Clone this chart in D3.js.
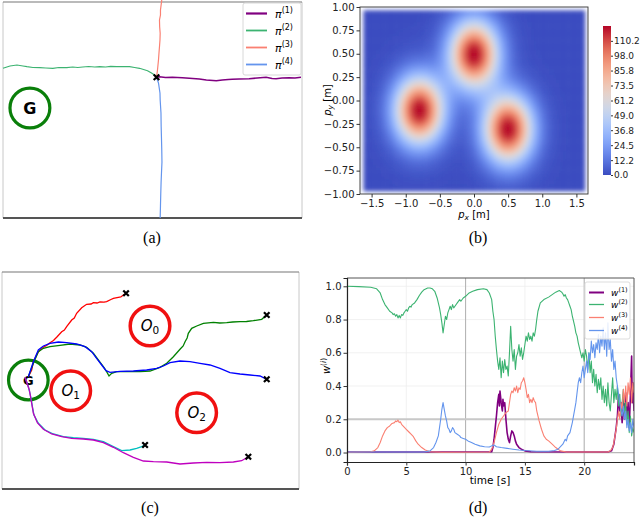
<!DOCTYPE html>
<html><head><meta charset="utf-8">
<script src="https://cdn.jsdelivr.net/npm/d3@7"></script>
<style>body{margin:0;background:#fff} svg{display:block} text{font-family:"DejaVu Sans",sans-serif}</style>
</head><body><svg id="fig" width="640" height="518"></svg>
<script>
// ---------------- DATA ----------------
// (a) four single-mode trajectories (units: dm in the panel frame)
const aNames = ["π(1)", "π(2)", "π(3)", "π(4)"];
const aColors = ["#800080", "#3cb371", "#fa8072", "#6495ed"];
const aPurple = [[15.4,14.07],[15.7,14.13],[16.3,14.05],[17.0,14.08],[18.0,14.03],[18.7,13.98],[19.7,13.9],[20.4,13.8],[21.4,13.73],[22.0,13.8],[22.6,13.85],[23.0,13.87],[23.7,13.9],[24.7,13.93],[25.5,14.0],[26.4,14.07],[27.0,13.95],[27.4,13.93],[28.0,14.0],[28.7,14.03],[29.3,14.0],[29.9,14.07]];
const aGreen = [[0,14.97],[0.7,15.2],[1.4,15.3],[2.0,15.2],[2.4,15.13],[3.0,15.05],[3.7,15.03],[4.3,15.0],[5.0,14.97],[5.6,15.05],[6.4,15.03],[7.0,15.1],[7.5,15.05],[8.0,15.1],[8.6,15.15],[9.2,15.1],[9.7,15.13],[10.3,15.1],[10.8,15.16],[11.4,15.13],[12.0,15.15],[12.7,15.13],[13.2,15.05],[13.7,14.97],[14.1,14.85],[14.5,14.73],[14.9,14.5],[15.2,14.3],[15.4,14.07]];
const aSalmon = [[15.4,14.07],[15.5,14.8],[15.6,15.8],[15.65,16.5],[15.7,17.13],[15.75,17.8],[15.77,18.47],[15.72,19.1],[15.7,19.8],[15.8,20.3],[15.8,20.8],[15.93,21.8]];
const aBlue = [[15.4,14.07],[15.6,13.5],[15.75,12.5],[15.77,11.8],[15.85,10.5],[15.87,9.13],[15.9,8.0],[15.93,6.8],[15.95,5.6],[15.9,4.47],[15.86,3.5],[15.83,2.47],[15.8,1.2],[15.77,0]];
const aStart = [15.4, 14.07];
const aGoal = [2.7, 11.0];
const goalRadius = 2.0;

// (b) cost map: three obstacle Gaussians
const obsX = [0.0, -0.8, 0.5];
const obsY = [0.5, -0.1, -0.3];
const obsAmp = [122.4, 122.4, 122.4];
const obsSigma = [0.25, 0.25, 0.25];
const cbTicks = [0.0, 12.2, 24.5, 36.8, 49.0, 61.2, 73.5, 85.8, 98.0, 110.2];
const cbMax = 122.4;
const bXTicks = [-1.5, -1.0, -0.5, 0.0, 0.5, 1.0, 1.5];
const bYTicks = [1.0, 0.75, 0.5, 0.25, 0.0, -0.25, -0.5, -0.75, -1.0];

// (c) mixture trajectories
const cObsX = [14.95, 6.94, 19.66];
const cObsY = [16.3, 9.83, 7.63];
const cObsLabel = ["0", "1", "2"];
const cGoal = [2.66, 10.9];
const cRed = [[2.66,11.23],[3.0,11.9],[3.17,12.73],[3.67,13.73],[4.18,14.17],[4.5,14.35],[4.85,14.63],[5.2,14.85],[5.52,15.17],[6.03,15.73],[6.3,15.9],[6.53,16.23],[7.04,16.9],[7.3,17.1],[7.54,17.57],[8.05,18.13],[8.3,18.3],[8.55,18.47],[9.0,18.5],[9.23,18.63],[9.6,18.6],[9.9,18.7],[10.3,18.68],[10.57,18.73],[11.0,18.95],[11.25,19.07],[11.75,19.17],[12.0,19.2],[12.26,19.4],[12.53,19.57]];
const cGreen = [[2.66,11.23],[3.17,12.57],[3.67,13.73],[4.18,14.07],[4.85,14.23],[5.86,14.37],[6.87,14.5],[7.88,14.4],[8.55,14.17],[9.23,13.57],[9.73,12.9],[10.24,12.23],[10.57,11.73],[10.81,11.3],[11.08,11.57],[11.58,11.73],[12.59,11.73],[13.94,11.73],[14.95,11.8],[15.96,12.17],[16.64,12.57],[17.31,13.23],[17.98,13.97],[18.3,14.3],[18.49,14.73],[18.7,15.1],[18.82,15.57],[19.16,16.07],[19.67,16.3],[20.34,16.57],[21.35,16.67],[22.0,16.6],[22.7,16.63],[23.3,16.7],[24.04,16.73],[24.7,16.75],[25.39,16.83],[26.23,16.97],[26.74,17.4]];
const cBlue = [[2.66,11.23],[3.17,12.73],[3.67,13.9],[4.18,14.3],[4.85,14.57],[5.69,14.7],[6.53,14.63],[7.54,14.5],[8.39,14.23],[9.06,13.73],[9.56,13.07],[10.07,12.4],[10.51,11.83],[10.91,11.67],[11.92,11.77],[13.27,11.8],[14.61,11.9],[15.62,12.07],[16.3,12.3],[16.97,12.63],[17.98,12.8],[18.99,12.73],[20.0,12.57],[21.01,12.4],[22.02,12.07],[23.03,11.63],[24.04,11.5],[25.05,11.4],[26.06,11.3],[26.74,10.97]];
const cCyan = [[2.33,11.17],[2.66,10.23],[2.9,9.23],[3.07,8.23],[3.23,7.4],[3.67,6.57],[4.35,5.9],[5.19,5.5],[6.2,5.23],[7.21,5.13],[8.22,5.07],[9.23,4.97],[10.24,4.73],[11.25,4.23],[12.09,3.83],[12.93,3.9],[13.6,4.07],[14.11,4.23],[14.45,4.4]];
const cMagenta = [[2.33,11.17],[2.76,9.9],[3.0,8.57],[3.17,7.57],[3.57,6.63],[4.18,5.97],[5.02,5.5],[6.03,5.23],[7.04,5.07],[8.22,5.0],[9.23,4.9],[10.24,4.63],[11.25,4.17],[12.26,3.63],[13.27,3.17],[14.28,2.8],[15.29,2.73],[16.64,2.7],[17.98,2.5],[19.33,2.6],[20.68,2.67],[22.02,2.63],[23.37,2.7],[24.21,2.83],[24.88,3.23]];
const cColors = ["#ff0000", "#008000", "#0000ff", "#00bfbf", "#bf00bf"];

// (d) mode weights over time [t (s), w]
const w1 = [[0,0.003],[12.2,0.005],[12.3,0.03],[12.4,0.08],[12.5,0.15],[12.6,0.22],[12.7,0.3],[12.8,0.35],[12.85,0.28],[12.9,0.37],[13.0,0.3],[13.1,0.25],[13.15,0.32],[13.2,0.28],[13.3,0.3],[13.4,0.2],[13.5,0.12],[13.6,0.08],[13.7,0.06],[13.8,0.1],[13.9,0.13],[14.0,0.12],[14.1,0.1],[14.2,0.07],[14.3,0.05],[14.5,0.03],[14.7,0.02],[15.0,0.01],[15.5,0.005],[22.0,0.003],[22.3,0.01],[22.5,0.05],[22.6,0.1],[22.7,0.15],[22.8,0.22],[22.9,0.35],[23.0,0.25],[23.1,0.3],[23.2,0.18],[23.3,0.32],[23.4,0.2],[23.5,0.36],[23.6,0.22],[23.7,0.3],[23.8,0.15],[23.9,0.35],[24.0,0.58],[24.05,0.3],[24.1,0.42],[24.2,0.25]];
const w2 = [[0,1.0],[1,0.998],[2,0.994],[2.5,0.985],[2.8,0.96],[3.0,0.92],[3.2,0.89],[3.4,0.87],[3.6,0.85],[3.8,0.84],[3.9,0.83],[4.0,0.835],[4.1,0.82],[4.2,0.83],[4.3,0.81],[4.4,0.825],[4.5,0.81],[4.6,0.83],[4.7,0.825],[4.8,0.84],[4.9,0.85],[5.0,0.86],[5.1,0.85],[5.2,0.87],[5.3,0.88],[5.4,0.875],[5.5,0.89],[5.7,0.9],[5.9,0.92],[6.1,0.945],[6.3,0.965],[6.5,0.98],[6.8,0.99],[7.0,0.99],[7.2,0.985],[7.4,0.97],[7.6,0.93],[7.8,0.87],[7.9,0.83],[8.0,0.78],[8.1,0.72],[8.2,0.77],[8.3,0.82],[8.4,0.8],[8.5,0.84],[8.6,0.86],[8.7,0.88],[8.8,0.86],[8.9,0.89],[9.0,0.87],[9.1,0.88],[9.3,0.9],[9.5,0.92],[9.6,0.91],[9.8,0.93],[10,0.94],[10.3,0.96],[10.6,0.97],[11,0.98],[11.5,0.985],[11.8,0.98],[12.0,0.96],[12.2,0.92],[12.3,0.85],[12.4,0.8],[12.5,0.7],[12.6,0.62],[12.7,0.55],[12.8,0.5],[12.9,0.57],[13.0,0.45],[13.1,0.55],[13.2,0.48],[13.3,0.56],[13.4,0.5],[13.5,0.52],[13.6,0.46],[13.7,0.6],[13.8,0.76],[13.9,0.62],[14.0,0.55],[14.1,0.62],[14.2,0.5],[14.3,0.58],[14.4,0.6],[14.5,0.65],[14.6,0.58],[14.7,0.63],[14.8,0.56],[14.9,0.6],[15.0,0.65],[15.1,0.7],[15.2,0.67],[15.3,0.72],[15.4,0.68],[15.5,0.7],[15.6,0.67],[15.7,0.72],[15.8,0.7],[15.9,0.74],[16.0,0.8],[16.1,0.85],[16.3,0.9],[16.6,0.92],[17.0,0.935],[17.3,0.95],[17.6,0.965],[17.9,0.975],[18.1,0.965],[18.2,0.955],[18.3,0.94],[18.4,0.95],[18.5,0.93],[18.6,0.92],[18.7,0.9],[18.8,0.88],[18.9,0.86],[19.0,0.82],[19.1,0.79],[19.2,0.76],[19.3,0.72],[19.4,0.7],[19.5,0.66],[19.6,0.63],[19.7,0.6],[19.8,0.57],[19.9,0.6],[20.0,0.55],[20.1,0.62],[20.2,0.58],[20.3,0.5],[20.4,0.6],[20.5,0.48],[20.6,0.55],[20.7,0.42],[20.8,0.5],[20.9,0.4],[21.0,0.47],[21.1,0.36],[21.2,0.44],[21.3,0.38],[21.4,0.45],[21.5,0.32],[21.6,0.4],[21.7,0.3],[21.8,0.38],[21.9,0.28],[22.0,0.42],[22.1,0.3],[22.2,0.25],[22.3,0.35],[22.4,0.45],[22.5,0.3],[22.6,0.38],[22.7,0.32],[22.8,0.4],[22.9,0.28],[23.0,0.35],[23.1,0.22],[23.2,0.3],[23.3,0.38],[23.4,0.2],[23.5,0.3],[23.6,0.17],[23.7,0.25],[23.8,0.12],[23.9,0.22],[24.0,0.1],[24.1,0.15],[24.2,0.12]];
const w3 = [[0,0.002],[2.0,0.005],[2.3,0.01],[2.6,0.03],[2.8,0.06],[3.0,0.1],[3.2,0.13],[3.4,0.15],[3.6,0.16],[3.8,0.175],[4.0,0.18],[4.1,0.19],[4.2,0.185],[4.3,0.195],[4.4,0.18],[4.5,0.185],[4.6,0.17],[4.8,0.155],[5.0,0.14],[5.2,0.125],[5.4,0.11],[5.6,0.095],[5.8,0.07],[6.0,0.05],[6.3,0.03],[6.6,0.015],[7.0,0.005],[8,0.002],[12.0,0.003],[12.2,0.02],[12.4,0.06],[12.6,0.12],[12.8,0.17],[13.0,0.2],[13.2,0.22],[13.4,0.24],[13.6,0.25],[13.7,0.3],[13.8,0.35],[13.9,0.37],[14.0,0.36],[14.1,0.39],[14.2,0.37],[14.3,0.4],[14.4,0.36],[14.5,0.39],[14.6,0.38],[14.7,0.42],[14.8,0.43],[14.9,0.45],[15.0,0.42],[15.1,0.38],[15.2,0.33],[15.3,0.35],[15.4,0.3],[15.5,0.32],[15.6,0.3],[15.7,0.33],[15.8,0.31],[15.9,0.3],[16.0,0.25],[16.2,0.19],[16.4,0.14],[16.6,0.1],[16.8,0.08],[17.0,0.07],[17.3,0.05],[17.6,0.03],[18.0,0.01],[18.5,0.003],[22.0,0.003],[22.2,0.01],[22.4,0.03],[22.5,0.06],[22.6,0.1],[22.7,0.14],[22.8,0.2],[22.9,0.25],[23.0,0.2],[23.1,0.3],[23.2,0.26],[23.3,0.38],[23.4,0.3],[23.5,0.4],[23.6,0.28],[23.7,0.42],[23.8,0.35],[23.9,0.45],[24.0,0.3],[24.1,0.42],[24.2,0.36]];
const w4 = [[0,0.003],[6.5,0.003],[7.0,0.01],[7.3,0.03],[7.5,0.06],[7.7,0.1],[7.8,0.15],[7.9,0.2],[8.0,0.26],[8.1,0.3],[8.2,0.26],[8.3,0.22],[8.4,0.19],[8.5,0.15],[8.6,0.14],[8.7,0.12],[8.8,0.13],[8.9,0.15],[9.0,0.14],[9.1,0.12],[9.3,0.11],[9.5,0.1],[9.6,0.09],[9.8,0.085],[10,0.08],[10.2,0.07],[10.5,0.06],[10.8,0.05],[11.2,0.04],[11.6,0.035],[12.0,0.033],[12.2,0.04],[12.4,0.045],[12.6,0.035],[13.0,0.03],[13.5,0.025],[14,0.02],[14.5,0.015],[15,0.012],[16,0.008],[17.0,0.008],[17.5,0.012],[17.8,0.02],[18.0,0.035],[18.2,0.05],[18.4,0.08],[18.5,0.07],[18.6,0.1],[18.8,0.12],[18.9,0.15],[19.0,0.18],[19.1,0.22],[19.2,0.26],[19.3,0.3],[19.4,0.36],[19.5,0.42],[19.6,0.45],[19.7,0.42],[19.8,0.48],[19.9,0.52],[20.0,0.45],[20.1,0.5],[20.2,0.55],[20.3,0.48],[20.4,0.6],[20.5,0.56],[20.6,0.67],[20.7,0.6],[20.8,0.65],[20.9,0.57],[21.0,0.66],[21.1,0.62],[21.2,0.71],[21.3,0.6],[21.4,0.7],[21.5,0.64],[21.6,0.75],[21.7,0.62],[21.8,0.72],[21.9,0.58],[22.0,0.78],[22.1,0.62],[22.2,0.68],[22.3,0.55],[22.4,0.62],[22.5,0.5],[22.6,0.55],[22.7,0.45],[22.8,0.4],[22.9,0.35],[23.0,0.3],[23.1,0.25],[23.2,0.22],[23.3,0.28],[23.4,0.2],[23.5,0.25],[23.6,0.15],[23.7,0.2],[23.8,0.13],[23.9,0.18],[24.0,0.12],[24.1,0.2],[24.2,0.15]];
const dXTicks = [0, 5, 10, 15, 20];
const dYTicks = [0.0, 0.2, 0.4, 0.6, 0.8, 1.0];
const dRefX = [10, 20];
const dRefY = [0.0, 0.2];

// ---------------- DRAW ----------------
const svg = d3.select("#fig");
const defs = svg.append("defs");
const coolwarm = d3.interpolateRgbBasis(["#3b4cc0","#6282ea","#8db0fe","#b8d0f9","#dddcdc","#f5c4ad","#f49a7b","#de604d","#b40426"]);

function frame(g, x0, x1, y0, y1){
  g.append("line").attr("x1",x0).attr("x2",x0).attr("y1",y0).attr("y2",y1).attr("stroke","#c8c8c8").attr("stroke-width",1);
  g.append("line").attr("x1",x1).attr("x2",x1).attr("y1",y0).attr("y2",y1).attr("stroke","#c8c8c8").attr("stroke-width",1);
  g.append("line").attr("x1",x0).attr("x2",x1).attr("y1",y0).attr("y2",y0).attr("stroke","#777").attr("stroke-width",1.2);
  g.append("line").attr("x1",x0).attr("x2",x1).attr("y1",y1).attr("y2",y1).attr("stroke","#555").attr("stroke-width",2);
}
function caption(txt, x, y){
  svg.append("text").attr("x",x).attr("y",y).attr("text-anchor","middle")
    .style("font-family","'Liberation Serif',serif").style("font-size","16px").text(txt);
}
function xMark(g, x, y){
  g.append("path").attr("transform",`translate(${x},${y})`)
    .attr("d", d3.symbol(d3.symbolTimes, 22)()).attr("stroke","#000").attr("stroke-width",2.2).attr("fill","none");
}

// ===== (a) =====
{
  const g = svg.append("g");
  const sx = d3.scaleLinear([0,30],[3,302]);
  const sy = d3.scaleLinear([0,21.6],[218,2]);
  frame(g, 3, 302, 2, 218);
  const line = d3.line().x(d=>sx(d[0])).y(d=>sy(d[1]));
  const goalR = sx(goalRadius) - sx(0);
  g.append("circle").attr("cx",sx(aGoal[0])).attr("cy",sy(aGoal[1])).attr("r",goalR)
    .attr("fill","none").attr("stroke","#0a7f0a").attr("stroke-width",3.2);
  g.append("text").attr("x",sx(aGoal[0])).attr("y",sy(aGoal[1])+6).attr("text-anchor","middle")
    .style("font-size","16px").style("font-weight","bold").text("G");
  [aPurple, aGreen, aSalmon, aBlue].forEach((s,i)=>{
    g.append("path").attr("d",line(s)).attr("fill","none").attr("stroke",aColors[i]).attr("stroke-width",i===0?1.6:1.2);
  });
  xMark(g, sx(aStart[0]), sy(aStart[1]));
  // legend
  const lg = g.append("g");
  lg.append("rect").attr("x",243).attr("y",3).attr("width",58).attr("height",72).attr("rx",2)
    .attr("fill","#fff").attr("fill-opacity",0.85).attr("stroke","#d8d8d8");
  const ly = [13.5, 30.5, 47.5, 64.5];
  aNames.forEach((n,i)=>{
    lg.append("line").attr("x1",246).attr("x2",267).attr("y1",ly[i]).attr("y2",ly[i])
      .attr("stroke",aColors[i]).attr("stroke-width",i===0?2.2:1.8);
    const t = lg.append("text").attr("x",275).attr("y",ly[i]+4).style("font-size","11px");
    t.append("tspan").style("font-style","italic").text("π");
    t.append("tspan").attr("dy",-5).style("font-size","8px").text(n.slice(1));
  });
  caption("(a)", 152, 243);
}

// ===== (b) =====
{
  const g = svg.append("g");
  const sx = d3.scaleLinear([-1.67,1.67],[360,588]);
  const sy = d3.scaleLinear([-1,1],[194,7]);
  defs.append("clipPath").attr("id","clipB").append("rect").attr("x",360).attr("y",7).attr("width",228).attr("height",187);
  defs.append("filter").attr("id","blurB").attr("x","-10%").attr("y","-10%").attr("width","120%").attr("height","120%")
    .append("feGaussianBlur").attr("stdDeviation",2);
  const cells = [];
  const dx = 0.04, dy = 0.03;
  for (let x=-1.62; x<1.62; x+=dx){
    for (let y=-0.965; y<0.965; y+=dy){
      let v = 0;
      const cx = x+dx/2, cy = y+dy/2;
      for (let k=0;k<obsX.length;k++){
        v += obsAmp[k]*Math.exp(-((cx-obsX[k])**2+(cy-obsY[k])**2)/(2*obsSigma[k]**2));
      }
      cells.push({x, y, v});
    }
  }
  const cscale = d3.scaleSequential(coolwarm).domain([0, cbMax]);
  const hg = g.append("g").attr("clip-path","url(#clipB)").append("g").attr("filter","url(#blurB)");
  hg.selectAll("rect").data(cells).join("rect")
    .attr("x",d=>sx(d.x)).attr("y",d=>sy(Math.min(d.y+dy,0.965)))
    .attr("width",d=>sx(Math.min(d.x+dx,1.62))-sx(d.x)+0.6)
    .attr("height",d=>sy(d.y)-sy(Math.min(d.y+dy,0.965))+0.6)
    .attr("fill",d=>cscale(Math.min(d.v,cbMax)));
  // spines
  g.append("rect").attr("x",360).attr("y",7).attr("width",228).attr("height",187).attr("fill","none").attr("stroke","#333").attr("stroke-width",0.9);
  const fmtX = d=>d3.format(".1f")(d).replace("-","−");
  const fmtY = d=>d3.format(".2f")(d).replace("-","−");
  const ax = g.append("g").attr("transform","translate(0,194)").call(d3.axisBottom(sx).tickValues(bXTicks).tickFormat(fmtX).tickSize(3.5).tickPadding(2));
  const ay = g.append("g").attr("transform","translate(360,0)").call(d3.axisLeft(sy).tickValues(bYTicks).tickFormat(fmtY).tickSize(3.5).tickPadding(2));
  [ax,ay].forEach(a=>{a.select(".domain").remove(); a.selectAll("text").style("font-family","'DejaVu Sans'").style("font-size","10px").attr("fill","#222"); a.selectAll("line").attr("stroke","#333");});
  const xl = g.append("text").attr("x",474).attr("y",218).attr("text-anchor","middle").style("font-size","10px");
  xl.append("tspan").style("font-style","italic").text("p");
  xl.append("tspan").attr("dy",2).style("font-size","7.5px").style("font-style","italic").text("x");
  xl.append("tspan").attr("dy",-2).text(" [m]");
  const yl = g.append("text").attr("transform","translate(331,100) rotate(-90)").attr("text-anchor","middle").style("font-size","10px");
  yl.append("tspan").style("font-style","italic").text("p");
  yl.append("tspan").attr("dy",2).style("font-size","7.5px").style("font-style","italic").text("y");
  yl.append("tspan").attr("dy",-2).text(" [m]");
  // colorbar
  const cy = d3.scaleLinear([0,cbMax],[175,26]);
  const grad = defs.append("linearGradient").attr("id","cbGrad").attr("x1",0).attr("y1",1).attr("x2",0).attr("y2",0);
  d3.range(0,1.0001,0.05).forEach(t=>grad.append("stop").attr("offset",t).attr("stop-color",coolwarm(t)));
  g.append("rect").attr("x",603).attr("y",26).attr("width",8).attr("height",149).attr("fill","url(#cbGrad)");
  const cax = g.append("g").attr("transform","translate(611,0)").call(d3.axisRight(cy).tickValues(cbTicks).tickFormat(d=>d.toFixed(1)).tickSize(2).tickPadding(1));
  cax.select(".domain").remove();
  cax.selectAll("text").style("font-size","9px").attr("fill","#222");
  cax.selectAll("line").attr("stroke","#333");
  caption("(b)", 478, 243);
}

// ===== (c) =====
{
  const g = svg.append("g");
  const sx = d3.scaleLinear([0,30],[2,299]);
  const sy = d3.scaleLinear([0,21.7],[489,272]);
  frame(g, 2, 299, 272, 489);
  const r = sx(goalRadius)-sx(0);
  cObsX.forEach((x,i)=>{
    g.append("circle").attr("cx",sx(x)).attr("cy",sy(cObsY[i])).attr("r",r).attr("fill","none").attr("stroke","#f01010").attr("stroke-width",3.5);
    const t = g.append("text").attr("x",sx(x)).attr("y",sy(cObsY[i])+5).attr("text-anchor","middle").style("font-size","15px");
    t.append("tspan").style("font-style","italic").text("O");
    t.append("tspan").attr("dy",3).style("font-size","10.5px").text(cObsLabel[i]);
  });
  g.append("circle").attr("cx",sx(cGoal[0])).attr("cy",sy(cGoal[1])).attr("r",r).attr("fill","none").attr("stroke","#0a7f0a").attr("stroke-width",3.2);
  g.append("text").attr("x",sx(cGoal[0])).attr("y",sy(cGoal[1])+5).attr("text-anchor","middle").style("font-size","13px").style("font-weight","bold").text("G");
  const line = d3.line().x(d=>sx(d[0])).y(d=>sy(d[1]));
  const sets = [cRed, cGreen, cBlue, cCyan, cMagenta];
  sets.forEach((s,i)=>{
    g.append("path").attr("d",line(s)).attr("fill","none").attr("stroke",cColors[i]).attr("stroke-width",1.3);
  });
  sets.forEach(s=>{ const e = s[s.length-1]; xMark(g, sx(e[0]), sy(e[1])); });
  caption("(c)", 150, 513);
}

// ===== (d) =====
{
  const g = svg.append("g");
  const sx = d3.scaleLinear([0,24.2],[347,634]);
  const sy = d3.scaleLinear([-0.057,1.05],[462,278]);
  defs.append("clipPath").attr("id","clipD").append("rect").attr("x",347).attr("y",278).attr("width",287).attr("height",184);
  // light grid
  dXTicks.forEach(t=>g.append("line").attr("x1",sx(t)).attr("x2",sx(t)).attr("y1",278).attr("y2",462).attr("stroke","#eeeeee").attr("stroke-width",0.8));
  dYTicks.forEach(t=>g.append("line").attr("x1",347).attr("x2",634).attr("y1",sy(t)).attr("y2",sy(t)).attr("stroke","#eeeeee").attr("stroke-width",0.8));
  // reference lines
  dRefX.forEach(t=>g.append("line").attr("x1",sx(t)).attr("x2",sx(t)).attr("y1",278).attr("y2",462).attr("stroke","#b0b0b0").attr("stroke-width",1));
  dRefY.forEach((t,i)=>g.append("line").attr("x1",347).attr("x2",634).attr("y1",sy(t)).attr("y2",sy(t)).attr("stroke",i===1?"#c8c8c8":"#b8b8b8").attr("stroke-width",i===1?2:1.2));
  const line = d3.line().x(d=>sx(d[0])).y(d=>sy(d[1]));
  const lg = g.append("g").attr("clip-path","url(#clipD)");
  [w1,w2,w3,w4].forEach((s,i)=>{
    lg.append("path").attr("d",line(s)).attr("fill","none").attr("stroke",aColors[i]).attr("stroke-width",i===0?1.6:1.1).attr("stroke-linejoin","round");
  });
  // spines
  g.append("line").attr("x1",347).attr("x2",634).attr("y1",278).attr("y2",278).attr("stroke","#555").attr("stroke-width",1);
  g.append("line").attr("x1",634).attr("x2",634).attr("y1",278).attr("y2",462).attr("stroke","#555").attr("stroke-width",1);
  const ax = g.append("g").attr("transform","translate(0,462)").call(d3.axisBottom(sx).tickValues(dXTicks).tickFormat(d3.format("d")).tickSize(3.5).tickPadding(2));
  const ay = g.append("g").attr("transform","translate(347,0)").call(d3.axisLeft(sy).tickValues(dYTicks).tickFormat(d3.format(".1f")).tickSize(3.5).tickPadding(2));
  [ax,ay].forEach(a=>{a.select(".domain").attr("stroke","#222").attr("stroke-width",1.2); a.selectAll("text").style("font-size","10px").attr("fill","#222"); a.selectAll("line").attr("stroke","#333");});
  g.append("text").attr("x",490).attr("y",484).attr("text-anchor","middle").style("font-size","10.5px").text("time [s]");
  const yl = g.append("text").attr("transform","translate(330,366) rotate(-90)").attr("text-anchor","middle").style("font-size","10px");
  yl.append("tspan").style("font-style","italic").text("w");
  yl.append("tspan").attr("dy",-4).style("font-size","7.5px").text("(");
  yl.append("tspan").style("font-size","7.5px").style("font-style","italic").text("i");
  yl.append("tspan").style("font-size","7.5px").text(")");
  // legend
  const lgd = g.append("g");
  lgd.append("rect").attr("x",585).attr("y",282).attr("width",45).attr("height",57).attr("rx",2)
    .attr("fill","#fff").attr("fill-opacity",0.85).attr("stroke","#dddddd");
  const ly = [292.5, 304.5, 317.5, 330.5];
  ly.forEach((y,i)=>{
    lgd.append("line").attr("x1",589).attr("x2",604).attr("y1",y).attr("y2",y).attr("stroke",aColors[i]).attr("stroke-width",i===0?2:1.3);
    const t = lgd.append("text").attr("x",611).attr("y",y+3).style("font-size","9px");
    t.append("tspan").style("font-style","italic").text("w");
    t.append("tspan").attr("dy",-3.5).style("font-size","6.5px").text("("+(i+1)+")");
  });
  caption("(d)", 478, 513);
}
</script></body></html>
